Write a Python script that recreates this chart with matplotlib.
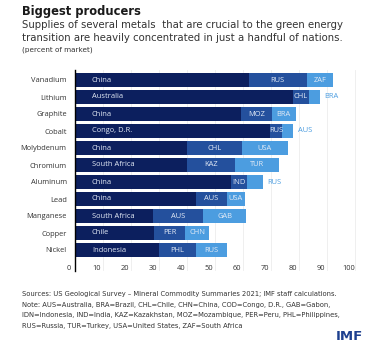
import matplotlib
matplotlib.use('Agg')
import matplotlib.pyplot as plt
import matplotlib.transforms as mtransforms

# Datos (porcentaje del mercado)
metales = ['Vanadium', 'Lithium', 'Graphite', 'Cobalt', 'Molybdenum', 'Chromium',
           'Aluminum', 'Lead', 'Manganese', 'Copper', 'Nickel']
pais1 = ['China', 'Australia', 'China', 'Congo, D.R.', 'China', 'South Africa',
         'China', 'China', 'South Africa', 'Chile', 'Indonesia']
pais2 = ['RUS', 'CHL', 'MOZ', 'RUS', 'CHL', 'KAZ', 'IND', 'AUS', 'AUS', 'PER', 'PHL']
pais3 = ['ZAF', 'BRA', 'BRA', 'AUS', 'USA', 'TUR', 'RUS', 'USA', 'GAB', 'CHN', 'RUS']
valores1 = [62, 78, 59.3, 69.6, 40, 40, 55.7, 43.2, 28, 28.3, 30.1]
valores2 = [20.7, 5.5, 10.9, 4.4, 19.6, 17, 5.6, 11, 17.8, 11, 13]
valores3 = [9.6, 4, 8.6, 4, 16.3, 15.7, 5.7, 6.5, 15.2, 8.6, 11.3]
ticks_x = [0, 10, 20, 30, 40, 50, 60, 70, 80, 90, 100]

c_oscuro = '#0c1f5e'
c_medio = '#24509d'
c_claro = '#4c9de0'
c_texto = '#e4ebf6'

plt.rcParams['font.family'] = ['Open Sans', 'DejaVu Sans']

fig = plt.figure(figsize=(3.88, 3.5), dpi=100)
W, H = 388, 350
ax = fig.add_axes([75 / W, 1 - 262 / H, 280 / W, 192 / H])

y = list(range(len(metales)))
alto = 0.86
ax.barh(y, valores1, height=alto, color=c_oscuro, zorder=3)
ax.barh(y, valores2, left=valores1, height=alto, color=c_medio, zorder=3)
izq3 = [a + b for a, b in zip(valores1, valores2)]
ax.barh(y, valores3, left=izq3, height=alto, color=c_claro, zorder=3)

fs = 5.4
for i in y:
    ax.text(6, i, pais1[i], color=c_texto, fontsize=fs, va='center', ha='left', zorder=4)
    ax.text(valores1[i] + valores2[i] / 2, i, pais2[i], color=c_texto, fontsize=fs,
            va='center', ha='center', zorder=4)
    if valores3[i] < 6:
        ax.text(izq3[i] + valores3[i] + 1.5, i, pais3[i], color=c_claro, fontsize=fs,
                va='center', ha='left', zorder=4)
    else:
        ax.text(izq3[i] + valores3[i] / 2, i, pais3[i], color=c_texto, fontsize=fs,
                va='center', ha='center', zorder=4)

ax.set_xlim(0, 100)
ax.set_ylim(10 + 12 / 17, -10 / 17)
ax.set_yticks(y)
ax.set_yticklabels(metales, fontsize=5.4, color='#333333')
ax.set_xticks(ticks_x)
ax.set_xticklabels([str(t) for t in ticks_x], fontsize=5.4, color='#333333')
ax.tick_params(length=0, pad=2)
ax.tick_params(axis='y', pad=6)
desplaza = mtransforms.ScaledTranslation(-6 / 100, 0, fig.dpi_scale_trans)
for lab in ax.get_xticklabels():
    lab.set_transform(lab.get_transform() + desplaza)

for s in ax.spines.values():
    s.set_visible(False)
for t in ticks_x[1:]:
    ax.axvline(t, ymin=-0.04, ymax=1, color='#ececec', linewidth=0.6, zorder=1, clip_on=False)
ax.axvline(0, ymin=-0.045, ymax=1.0, color='black', linewidth=1.0, zorder=5, clip_on=False)

# Títulos
fig.text(22 / W, 1 - 11 / H, 'Biggest producers', fontsize=8.3, fontweight='bold',
         color='#1a1a1a', va='center', ha='left', family='DejaVu Sans')
fig.text(22 / W, 1 - 25 / H, 'Supplies of several metals  that are crucial to the green energy',
         fontsize=7.3, color='#333333', va='center', ha='left', family='DejaVu Sans')
fig.text(22 / W, 1 - 38 / H, 'transition are heavily concentrated in just a handful of nations.',
         fontsize=7.3, color='#333333', va='center', ha='left', family='DejaVu Sans')
fig.text(22 / W, 1 - 50 / H, '(percent of market)', fontsize=5.2, color='#333333',
         va='center', ha='left', family='DejaVu Sans')

notas = ['Sources: US Geological Survey – Mineral Commodity Summaries 2021; IMF staff calculations.',
         'Note: AUS=Australia, BRA=Brazil, CHL=Chile, CHN=China, COD=Congo, D.R., GAB=Gabon,',
         'IDN=Indonesia, IND=India, KAZ=Kazakhstan, MOZ=Mozambique, PER=Peru, PHL=Philippines,',
         'RUS=Russia, TUR=Turkey, USA=United States, ZAF=South Africa']
for k, linea in enumerate(notas):
    fig.text(22 / W, 1 - (294 + k * 10.7) / H, linea, fontsize=4.9, color='#333333',
             va='center', ha='left', family='DejaVu Sans')

fig.text(363 / W, 1 - 336 / H, 'IMF', fontsize=9.5, fontweight='bold', color='#1d3f8f',
         va='center', ha='right', family='DejaVu Sans')

fig.savefig('out.png', dpi=100)
